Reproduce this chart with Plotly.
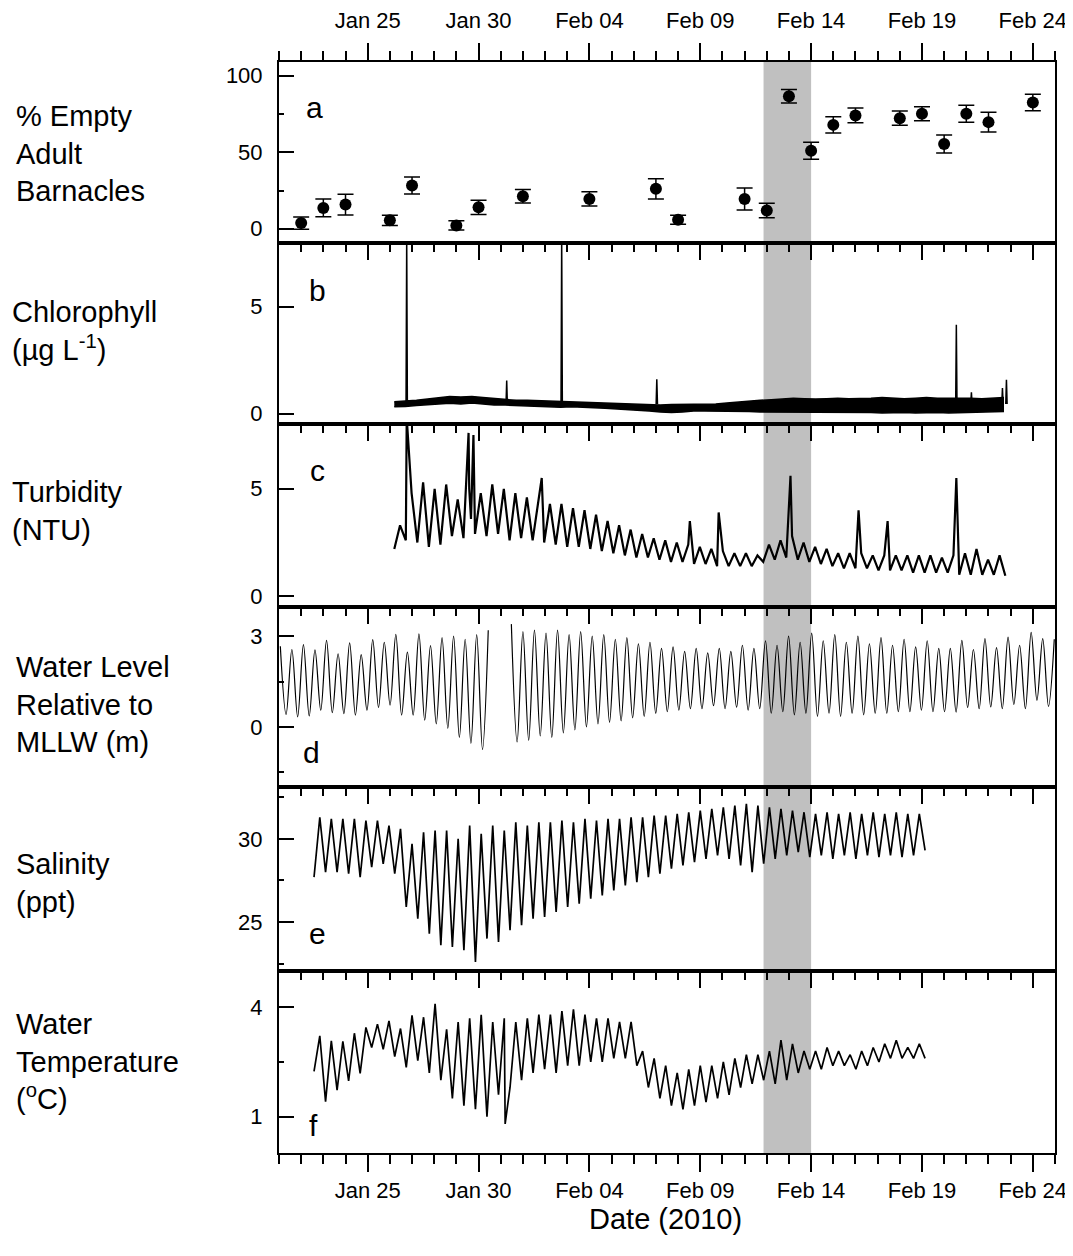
import pandas as pd
import plotly.graph_objects as go

BASE = pd.Timestamp("2010-01-21")
X_RANGE = ["2010-01-21 00:00", "2010-02-25 00:00"]
BAND = ["2010-02-11 20:30", "2010-02-14 00:00"]

# ---------------- panel a : % empty adult barnacles ----------------
BARN_DATES = ["2010-01-22", "2010-01-23", "2010-01-24", "2010-01-26", "2010-01-27",
              "2010-01-29", "2010-01-30", "2010-02-01", "2010-02-04", "2010-02-07",
              "2010-02-08", "2010-02-11", "2010-02-12", "2010-02-13", "2010-02-14",
              "2010-02-15", "2010-02-16", "2010-02-18", "2010-02-19", "2010-02-20",
              "2010-02-21", "2010-02-22", "2010-02-24"]
BARN_PCT = [3.7, 13.6, 15.8, 5.5, 28.3, 2.2, 14.0, 21.3, 19.5, 26.1, 5.9, 19.5, 11.9,
            86.6, 51.0, 67.9, 74.1, 72.3, 75.2, 55.4, 75.2, 69.7, 82.5]
BARN_ERR = [4.0, 5.8, 6.8, 3.3, 5.6, 3.0, 4.7, 4.4, 4.7, 6.6, 3.0, 7.2, 4.7, 4.4, 5.5,
            5.3, 4.8, 4.6, 4.6, 5.9, 5.5, 6.4, 5.4]

# ---------------- panel b : chlorophyll (days since Jan 21) ----------------
CHL_T0, CHL_STEP = 5.2, 0.5
CHL_LOW = [0.32, 0.33, 0.38, 0.40, 0.45, 0.48, 0.45, 0.50, 0.45, 0.40, 0.40, 0.38, 0.35,
           0.33, 0.33, 0.30, 0.32, 0.28, 0.27, 0.25, 0.22, 0.20, 0.18, 0.12, 0.08, 0.05,
           0.08, 0.12, 0.12, 0.12, 0.10, 0.10, 0.10, 0.08, 0.08, 0.05, 0.08, 0.08, 0.05,
           0.05, 0.05, 0.08, 0.05, 0.05, 0.03, 0.05, 0.05, 0.03, 0.05, 0.05, 0.03, 0.05,
           0.05, 0.08, 0.08, 0.10]
CHL_HIGH = [0.55, 0.58, 0.62, 0.68, 0.75, 0.80, 0.78, 0.80, 0.75, 0.70, 0.68, 0.62, 0.62,
            0.60, 0.58, 0.58, 0.56, 0.55, 0.52, 0.50, 0.48, 0.45, 0.45, 0.42, 0.40, 0.42,
            0.42, 0.45, 0.45, 0.45, 0.50, 0.55, 0.58, 0.62, 0.65, 0.70, 0.72, 0.70, 0.68,
            0.70, 0.72, 0.70, 0.70, 0.72, 0.75, 0.72, 0.70, 0.72, 0.75, 0.72, 0.72, 0.75,
            0.72, 0.70, 0.72, 0.75]
CHL_SPIKE_T = [5.76, 10.27, 12.75, 17.04, 30.55, 31.23, 32.63, 32.81]
CHL_SPIKE_V = [8.3, 1.55, 8.3, 1.6, 4.15, 1.0, 1.2, 1.58]

# ---------------- panel c : turbidity (alternating low / high) ----------------
TUR_T0, TUR_STEP = 5.2, 0.26
TUR_VALS = [2.2, 3.3, 2.6, 4.8, 2.5, 5.3, 2.3, 5.0, 2.4, 5.2, 2.8, 4.5, 2.7, 5.0, 2.9,
            4.8, 2.8, 5.2, 2.9, 5.0, 2.6, 4.8, 2.7, 4.6, 2.6, 4.4, 2.5, 4.3, 2.4, 4.3,
            2.3, 4.1, 2.3, 4.0, 2.2, 3.8, 2.1, 3.5, 2.0, 3.3, 1.9, 3.1, 1.8, 2.9, 1.8,
            2.7, 1.7, 2.6, 1.6, 2.5, 1.6, 2.4, 1.5, 2.3, 1.5, 2.2, 1.4, 2.1, 1.4, 2.0,
            1.4, 2.0, 1.4, 1.9, 1.6, 2.4, 1.7, 2.6, 1.8, 2.8, 1.7, 2.5, 1.6, 2.3, 1.5,
            2.2, 1.4, 2.0, 1.3, 2.0, 1.3, 2.0, 1.3, 1.9, 1.2, 1.9, 1.2, 1.9, 1.2, 1.9,
            1.1, 1.9, 1.1, 1.9, 1.1, 1.8, 1.1, 1.9, 1.0, 2.0, 1.0, 2.2, 1.0, 1.7, 1.0,
            1.9, 0.95]
TUR_SPIKE_T = [5.76, 8.55, 8.66, 8.77, 11.85, 18.53, 19.83, 23.07, 26.14, 27.45, 30.55]
TUR_SPIKE_V = [8.3, 7.6, 3.6, 7.5, 5.5, 3.5, 3.9, 5.6, 4.0, 3.5, 5.5]

# ---------------- panel d : water level (alternating high / low) ----------------
WL_T0, WL_STEP = 0.06, 0.2605
WL_VALS = [2.67, 0.41, 2.56, 0.33, 2.72, 0.36, 2.55, 0.55, 2.86, 0.47, 2.42, 0.44,
           2.78, 0.39, 2.39, 0.55, 2.89, 0.64, 2.80, 0.72, 3.06, 0.39, 2.47, 0.39,
           3.08, 0.22, 2.69, 0.10, 2.95, -0.05, 3.00, -0.35, 2.90, -0.55, 3.05, -0.75,
           3.20, None, None, None,
           3.40, -0.50, 3.15, -0.45, 3.20, -0.30, 3.10, -0.35, 3.20, -0.20, 3.05, -0.10,
           3.15, 0.00, 3.00, 0.10, 3.05, 0.15, 2.90, 0.20, 2.95, 0.30, 2.75, 0.35,
           2.80, 0.45, 2.60, 0.50, 2.65, 0.55, 2.50, 0.60, 2.60, 0.60, 2.45, 0.70,
           2.60, 0.60, 2.50, 0.65, 2.70, 0.55, 2.60, 0.60, 2.85, 0.45, 2.70, 0.50,
           3.00, 0.40, 2.80, 0.45, 3.10, 0.35, 2.85, 0.45, 3.05, 0.35, 2.80, 0.45,
           3.00, 0.40, 2.75, 0.45, 2.95, 0.45, 2.70, 0.50, 2.90, 0.50, 2.65, 0.55,
           2.85, 0.50, 2.60, 0.50, 2.60, 0.49, 2.86, 0.64, 2.56, 0.60, 2.92, 0.66,
           2.62, 0.60, 2.97, 0.74, 2.70, 0.60, 3.13, 0.88, 2.92, 0.68, 2.90]

# ---------------- panel e : salinity (alternating low / high) ----------------
SAL_T0, SAL_STEP = 1.58, 0.26
SAL_VALS = [27.7, 31.3, 28.0, 31.2, 28.0, 31.2, 27.9, 31.2, 27.7, 31.1, 28.3, 31.1,
            28.5, 30.8, 27.9, 30.6, 25.9, 29.7, 25.2, 30.4, 24.3, 30.5, 23.6, 30.5,
            23.5, 30.0, 23.3, 30.8, 22.6, 30.3, 24.0, 30.8, 23.8, 30.5, 24.5, 31.0,
            24.8, 30.8, 25.2, 31.0, 25.3, 31.0, 25.6, 31.1, 25.9, 31.0, 26.1, 31.2,
            26.4, 31.1, 26.6, 31.2, 26.9, 31.2, 27.2, 31.3, 27.4, 31.3, 27.7, 31.4,
            27.9, 31.4, 28.2, 31.5, 28.4, 31.6, 28.6, 31.7, 28.8, 31.8, 29.0, 31.9,
            28.8, 32.0, 28.4, 32.1, 28.0, 32.0, 28.5, 31.9, 28.8, 31.8, 29.0, 31.7,
            29.2, 31.6, 28.9, 31.5, 29.0, 31.6, 28.8, 31.5, 29.0, 31.6, 28.8, 31.5,
            29.0, 31.6, 28.9, 31.5, 29.0, 31.6, 28.9, 31.5, 29.0, 31.5, 29.3]

# ---------------- panel f : water temperature (alternating) ----------------
TEMP_T0, TEMP_STEP = 1.58, 0.26
TEMP_VALS = [2.24, 3.22, 1.41, 3.08, 1.73, 3.07, 1.98, 3.29, 2.19, 3.45, 2.90, 3.54,
             2.85, 3.63, 2.65, 3.42, 2.35, 3.78, 2.54, 3.73, 2.20, 4.10, 2.00, 3.40,
             1.50, 3.60, 1.30, 3.70, 1.20, 3.80, 1.00, 3.60, 1.60, 3.70, 1.80, 3.60,
             2.00, 3.70, 2.20, 3.80, 2.30, 3.80, 2.20, 3.90, 2.40, 3.95, 2.40, 3.80,
             2.50, 3.70, 2.50, 3.70, 2.60, 3.60, 2.60, 3.60, 2.40, 2.80, 1.80, 2.60,
             1.50, 2.40, 1.30, 2.20, 1.20, 2.30, 1.30, 2.40, 1.40, 2.40, 1.50, 2.50,
             1.60, 2.60, 1.80, 2.70, 1.90, 2.70, 2.00, 2.80, 1.90, 3.10, 2.00, 3.00,
             2.20, 2.80, 2.30, 2.80, 2.30, 2.90, 2.40, 2.80, 2.40, 2.70, 2.30, 2.80,
             2.40, 2.90, 2.50, 3.00, 2.60, 3.10, 2.60, 2.90, 2.60, 3.00, 2.60]
TEMP_SPIKE_T = [10.2]
TEMP_SPIKE_V = [0.8]

LEFT_LABELS = ["% Empty<br>Adult<br>Barnacles", "Chlorophyll<br>(µg L<sup>-1</sup>)",
               "Turbidity<br>(NTU)", "Water Level<br>Relative to<br>MLLW (m)",
               "Salinity<br>(ppt)", "Water<br>Temperature<br>(<sup>o</sup>C)"]
PANEL_LETTERS = ["a", "b", "c", "d", "e", "f"]


def days_to_dt(days):
    return [None if d is None else BASE + pd.to_timedelta(d, unit="D") for d in days]


def regular(t0, step, vals):
    return [t0 + i * step for i in range(len(vals))]


def merge(t, v, st, sv):
    pts = sorted(list(zip(t, v)) + list(zip(st, sv)), key=lambda p: p[0])
    return [p[0] for p in pts], [p[1] for p in pts]


fig = go.Figure()
BLACK = "black"

# panel a
fig.add_trace(go.Scatter(x=BARN_DATES, y=BARN_PCT, mode="markers",
                         marker=dict(size=12, color=BLACK),
                         error_y=dict(type="data", array=BARN_ERR, color=BLACK,
                                      thickness=1.5, width=8),
                         xaxis="x", yaxis="y", showlegend=False))
# panel b : noisy band drawn as envelope + spikes
chl_t = days_to_dt(regular(CHL_T0, CHL_STEP, CHL_LOW))
fig.add_trace(go.Scatter(x=chl_t, y=CHL_LOW, mode="lines", line=dict(color=BLACK, width=1.5),
                         xaxis="x2", yaxis="y2", showlegend=False))
fig.add_trace(go.Scatter(x=chl_t, y=CHL_HIGH, mode="lines", line=dict(color=BLACK, width=1.5),
                         fill="tonexty", fillcolor=BLACK,
                         xaxis="x2", yaxis="y2", showlegend=False))
sx, sy = [], []
for t, v in zip(CHL_SPIKE_T, CHL_SPIKE_V):
    sx += [t - 0.03, t, t + 0.03, None]
    sy += [0.45, v, 0.45, None]
fig.add_trace(go.Scatter(x=days_to_dt(sx), y=sy, mode="lines", line=dict(color=BLACK, width=1.5),
                         xaxis="x2", yaxis="y2", showlegend=False))
# panel c
t, v = merge(regular(TUR_T0, TUR_STEP, TUR_VALS), TUR_VALS, TUR_SPIKE_T, TUR_SPIKE_V)
fig.add_trace(go.Scatter(x=days_to_dt(t), y=v, mode="lines", line=dict(color=BLACK, width=2.2),
                         xaxis="x3", yaxis="y3", showlegend=False))
# panel d
fig.add_trace(go.Scatter(x=days_to_dt(regular(WL_T0, WL_STEP, WL_VALS)), y=WL_VALS, mode="lines",
                         line=dict(color=BLACK, width=1.2, shape="spline", smoothing=1.0),
                         connectgaps=False, xaxis="x4", yaxis="y4", showlegend=False))
# panel e
fig.add_trace(go.Scatter(x=days_to_dt(regular(SAL_T0, SAL_STEP, SAL_VALS)), y=SAL_VALS, mode="lines",
                         line=dict(color=BLACK, width=1.7),
                         xaxis="x5", yaxis="y5", showlegend=False))
# panel f
t, v = merge(regular(TEMP_T0, TEMP_STEP, TEMP_VALS), TEMP_VALS, TEMP_SPIKE_T, TEMP_SPIKE_V)
fig.add_trace(go.Scatter(x=days_to_dt(t), y=v, mode="lines", line=dict(color=BLACK, width=1.7),
                         xaxis="x6", yaxis="y6", showlegend=False))
# helper trace for bottom date axis
fig.add_trace(go.Scatter(x=[X_RANGE[0]], y=[None], mode="lines", xaxis="x7", yaxis="y6",
                         showlegend=False, hoverinfo="skip"))

# layout geometry (page pixels; the page body adds an 8 px offset)
OFF = 8
W_FIG, H_FIG = 1073 - OFF, 1256 - OFF
TOP, BOTTOM = 62, 1153
EDGES = [62, 243.3, 424.3, 607.2, 787.3, 971.0, 1153]
PLOT_H = BOTTOM - TOP
PLOT_L, PLOT_R = 279.3, 1055
PLOT_W = PLOT_R - PLOT_L


def pfrac(ypix):
    return (BOTTOM - ypix) / PLOT_H


Y_RANGES = [[-9.5, 109], [-0.5, 7.96], [-0.51, 8.0], [-2.0, 3.96], [22.05, 33.1], [0, 5]]
Y_TICKS = [[0, 50, 100], [0, 5], [0, 5], [0, 3], [25, 30], [1, 4]]
Y_MINOR = [[25, 75], [2.5], [2.5], [-1.5, 1.5], [22.5, 27.5, 32.5], [2.5]]
Y_MINOR_LEN = [5, 0, 0, 5, 5, 5]

FONT = "Liberation Sans, Arial, sans-serif"
TICKFONT = dict(family=FONT, size=22, color=BLACK)
DAY_MS = 86400000
layout = dict(
    width=W_FIG, height=H_FIG,
    margin=dict(l=PLOT_L - OFF, r=1073 - PLOT_R, t=TOP - OFF, b=1256 - BOTTOM, autoexpand=False),
    paper_bgcolor="white", plot_bgcolor="rgba(0,0,0,0)",
    font=dict(family=FONT, color=BLACK),
    showlegend=False,
)
for i in range(6):
    n = i + 1
    sfx = "" if n == 1 else str(n)
    top_lab = (n == 1)
    layout["xaxis" + sfx] = dict(
        domain=[0, 1], anchor="y" + sfx, range=X_RANGE, type="date", side="top",
        automargin=False,
        showline=True, linecolor=BLACK, linewidth=2, mirror=True,
        ticks="outside" if top_lab else "inside", ticklen=17, tickwidth=2, tickcolor=BLACK,
        tick0="2010-01-25", dtick=5 * DAY_MS, tickformat="%b %d",
        showticklabels=top_lab, tickfont=TICKFONT, ticklabelstandoff=6,
        minor=dict(ticks="outside" if top_lab else "inside", tick0="2010-01-21",
                   dtick=DAY_MS, ticklen=9, tickwidth=2, tickcolor=BLACK, showgrid=False),
        showgrid=False, zeroline=False,
        **({} if n == 1 else {"matches": "x"}),
    )
    layout["yaxis" + sfx] = dict(
        domain=[pfrac(EDGES[n]), pfrac(EDGES[i])], anchor="x" + sfx, range=Y_RANGES[i],
        automargin=False,
        showline=True, linecolor=BLACK, linewidth=2, mirror=True,
        ticks="inside", ticklen=15, tickwidth=2, tickcolor=BLACK,
        tickmode="array", tickvals=Y_TICKS[i], tickfont=TICKFONT, ticklabelstandoff=10,
        minor=dict(ticks="inside", tickmode="array", tickvals=Y_MINOR[i],
                   ticklen=Y_MINOR_LEN[i], tickwidth=2, tickcolor=BLACK, showgrid=False),
        showgrid=False, zeroline=False,
    )
layout["xaxis7"] = dict(
    overlaying="x6", anchor="y6", side="bottom", range=X_RANGE, type="date",
    automargin=False,
    showline=True, linecolor=BLACK, linewidth=2,
    ticks="outside", ticklen=17, tickwidth=2, tickcolor=BLACK,
    tick0="2010-01-25", dtick=5 * DAY_MS, tickformat="%b %d", tickfont=TICKFONT,
    minor=dict(ticks="outside", tick0="2010-01-21", dtick=DAY_MS, ticklen=9, tickwidth=2,
               tickcolor=BLACK, showgrid=False),
    showgrid=False, zeroline=False, matches="x",
)
fig.update_layout(**layout)

# shaded band in each panel
for i in range(6):
    sfx = "" if i == 0 else str(i + 1)
    fig.add_shape(type="rect", xref="x" + sfx, yref="y" + sfx + " domain",
                  x0=BAND[0], x1=BAND[1], y0=0, y1=1,
                  fillcolor="#c0c0c0", line=dict(width=0), layer="below")

LABEL_POS = [(14, 153), (10, 331), (10, 511), (14, 704), (14, 883), (14, 1061)]
LETTER_POS = [(315, 107), (318, 290), (318, 470), (312, 752), (318, 933), (314, 1125)]
ann = []
for lab, (px, py) in zip(LEFT_LABELS, LABEL_POS):
    ann.append(dict(text=lab, xref="paper", yref="paper", x=(px - PLOT_L) / PLOT_W, y=pfrac(py),
                    xanchor="left", yanchor="middle", align="left", showarrow=False,
                    font=dict(size=29, color=BLACK)))
for lab, (px, py) in zip(PANEL_LETTERS, LETTER_POS):
    ann.append(dict(text=lab, xref="paper", yref="paper", x=(px - PLOT_L) / PLOT_W, y=pfrac(py),
                    xanchor="center", yanchor="middle", showarrow=False,
                    font=dict(size=30, color=BLACK)))
ann.append(dict(text="Date (2010)", xref="paper", yref="paper", x=(666 - PLOT_L) / PLOT_W,
                y=pfrac(1219), xanchor="center", yanchor="middle", showarrow=False,
                font=dict(size=29, color=BLACK)))
fig.update_layout(annotations=ann)

fig.write_html("out.html")
